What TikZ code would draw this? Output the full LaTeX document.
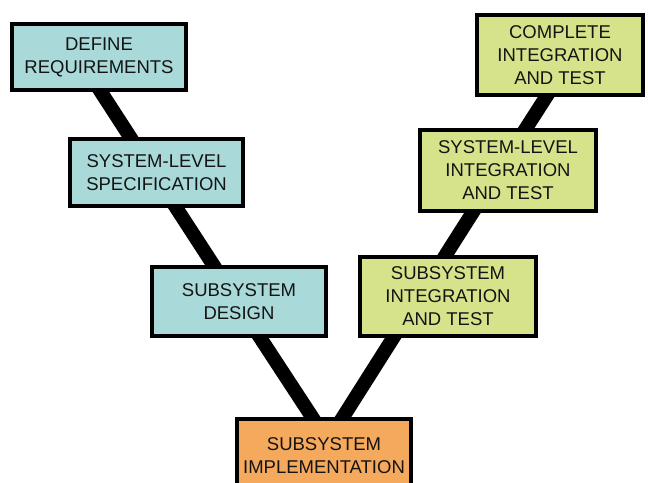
\documentclass[tikz,border=0pt]{standalone}
\usepackage{fontspec}
\setmainfont{Liberation Sans}
\usetikzlibrary{calc,backgrounds}
\definecolor{boxblue}{HTML}{A9D9D9}
\definecolor{boxgreen}{HTML}{D6E38A}
\definecolor{boxorange}{HTML}{F4A95C}
\definecolor{txt}{HTML}{141414}
\tikzset{
  stage/.style={draw=black, line width=4pt, inner sep=0pt, align=center,
    text=txt, font=\fontsize{18.5}{23}\selectfont},
  vline/.style={line width=14pt, black, shorten <=-9pt, shorten >=-9pt},
}
\begin{document}
\begin{tikzpicture}[x=1pt,y=-1pt]
\useasboundingbox (0,0) rectangle (648,482);
\clip (0,0) rectangle (648,482);
\node[stage, fill=boxblue, minimum width=174pt, minimum height=66pt] (b1) at (99,57) {DEFINE\\REQUIREMENTS};
\node[stage, fill=boxblue, minimum width=173pt, minimum height=67pt] (b2) at (156.5,172.5) {SYSTEM-LEVEL\\SPECIFICATION};
\node[stage, fill=boxblue, minimum width=174pt, minimum height=69pt] (b3) at (239,301.5) {SUBSYSTEM\\DESIGN};
\node[stage, fill=boxorange, minimum width=174pt, minimum height=74pt] (b4) at (324,456) {SUBSYSTEM\\IMPLEMENTATION};
\node[stage, fill=boxgreen, minimum width=176pt, minimum height=79pt] (b5) at (448,296.5) {SUBSYSTEM\\INTEGRATION\\AND TEST};
\node[stage, fill=boxgreen, minimum width=176pt, minimum height=81pt] (b6) at (508,170.5) {SYSTEM-LEVEL\\INTEGRATION\\AND TEST};
\node[stage, fill=boxgreen, minimum width=166pt, minimum height=80pt] (b7) at (560,55) {COMPLETE\\INTEGRATION\\AND TEST};
\begin{scope}[on background layer]
\draw[vline] ($(b1.south west)!0.511!(b1.south east)$) -- ($(b2.north west)!0.351!(b2.north east)$);
\draw[vline] ($(b2.south west)!0.612!(b2.south east)$) -- ($(b3.north west)!0.356!(b3.north east)$);
\draw[vline] ($(b3.south west)!0.620!(b3.south east)$) -- ($(b4.north west)!0.433!(b4.north east)$);
\draw[vline] ($(b4.north west)!0.607!(b4.north east)$) -- ($(b5.south west)!0.195!(b5.south east)$);
\draw[vline] ($(b5.north west)!0.487!(b5.north east)$) -- ($(b6.south west)!0.302!(b6.south east)$);
\draw[vline] ($(b6.north west)!0.601!(b6.north east)$) -- ($(b7.south west)!0.418!(b7.south east)$);
\end{scope}
\end{tikzpicture}
\end{document}
